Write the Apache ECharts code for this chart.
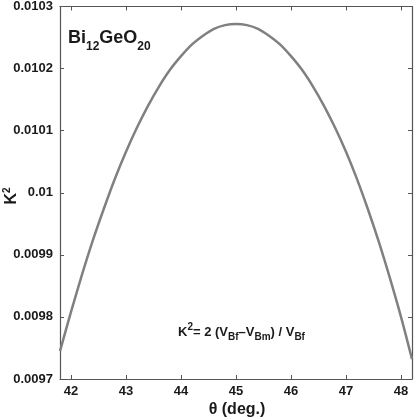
<!DOCTYPE html>
<html>
<head>
<meta charset="utf-8">
<script src="https://cdn.jsdelivr.net/npm/echarts@6/dist/echarts.min.js"></script>
<style>
  html, body { margin: 0; padding: 0; background: #fff; }
  #main { width: 415px; height: 419px; }
</style>
</head>
<body>
<div id="main"></div>
<script>
// theta (deg.) and K^2
var theta = [41.8, 42.0, 42.2, 42.4, 42.6, 42.8, 43.0, 43.2, 43.4, 43.6, 43.8, 44.0, 44.2, 44.4, 44.6, 44.8, 45.0,
  45.2, 45.4, 45.6, 45.8, 46.0, 46.2, 46.4, 46.6, 46.8, 47.0, 47.2, 47.4, 47.6, 47.8, 48.0, 48.2];
var k2 = [0.009745, 0.009808, 0.009868, 0.009924, 0.009975, 0.010023, 0.010066, 0.010105, 0.010140, 0.010171, 0.010198, 0.010220, 0.010239, 0.010253, 0.010264, 0.010270, 0.010272,
  0.010270, 0.010264, 0.010253, 0.010239, 0.010220, 0.010198, 0.010171, 0.010140, 0.010105, 0.010066, 0.010022, 0.009973, 0.009920, 0.009862, 0.009800, 0.009732];
var xTicks = [42, 43, 44, 45, 46, 47, 48];
var yTicks = [0.0097, 0.0098, 0.0099, 0.01, 0.0101, 0.0102, 0.0103];

var chart = echarts.init(document.getElementById('main'), null, { renderer: 'canvas' });

var font = 'Liberation Sans, Arial, Helvetica, sans-serif';
var axisColor = '#555';
var textColor = '#1a1a1a';

var pts = [];
for (var i = 0; i < theta.length; i++) {
  pts.push([theta[i], k2[i]]);
}

function xAxisCfg(pos, showLabel) {
  return {
    type: 'value',
    position: pos,
    min: 41.8,
    max: 48.2,
    axisLine: { show: true, onZero: false, lineStyle: { color: axisColor, width: 1.2 } },
    axisTick: { show: true, inside: true, length: 4, customValues: xTicks, lineStyle: { color: axisColor } },
    axisLabel: {
      show: showLabel, customValues: xTicks, margin: 6,
      color: textColor, fontSize: 13, fontWeight: 'bold', fontFamily: font
    },
    splitLine: { show: false }
  };
}

function yAxisCfg(pos, showLabel) {
  return {
    type: 'value',
    position: pos,
    min: 0.0097,
    max: 0.0103,
    axisLine: { show: true, onZero: false, lineStyle: { color: axisColor, width: 1.2 } },
    axisTick: { show: true, inside: true, length: 4, customValues: yTicks, lineStyle: { color: axisColor } },
    axisLabel: {
      show: showLabel, customValues: yTicks, margin: 7,
      color: textColor, fontSize: 13, fontWeight: 'bold', fontFamily: font,
      formatter: function (v) { return String(parseFloat(v.toFixed(4))); }
    },
    splitLine: { show: false }
  };
}

var option = {
  backgroundColor: '#fff',
  animation: false,
  grid: { left: 60, right: 3, top: 5, bottom: 40, containLabel: false },
  xAxis: [xAxisCfg('bottom', true), xAxisCfg('top', false)],
  yAxis: [yAxisCfg('left', true), yAxisCfg('right', false)],
  series: [{
    type: 'line',
    data: pts,
    smooth: 0.3,
    showSymbol: false,
    lineStyle: { color: '#808080', width: 2.5 }
  }],
  graphic: [
    {
      type: 'text', left: 68, top: 29,
      style: {
        text: '{m|Bi}{s|12}{m|GeO}{s|20}',
        fill: textColor,
        rich: {
          m: { fontSize: 18, fontWeight: 'bold', fontFamily: font, fill: textColor, lineHeight: 24, verticalAlign: 'top' },
          s: { fontSize: 12, fontWeight: 'bold', fontFamily: font, fill: textColor, lineHeight: 24, verticalAlign: 'bottom', padding: [9, 0, 0, 0] }
        }
      }
    },
    {
      type: 'text', left: 178, top: 322,
      style: {
        text: '{m|K}{p|2}{m|= 2 (V}{s|Bf}{m|\u2013V}{s|Bm}{m|) / V}{s|Bf}',
        fill: textColor,
        rich: {
          m: { fontSize: 13, fontWeight: 'bold', fontFamily: font, fill: textColor, lineHeight: 20, verticalAlign: 'middle' },
          p: { fontSize: 10, fontWeight: 'bold', fontFamily: font, fill: textColor, lineHeight: 20, verticalAlign: 'top', padding: [0, 0, 6, 0] },
          s: { fontSize: 10, fontWeight: 'bold', fontFamily: font, fill: textColor, lineHeight: 20, verticalAlign: 'bottom', padding: [7, 0, 0, 0] }
        }
      }
    },
    {
      type: 'text', x: 237, y: 410,
      style: {
        text: '\u03b8 (deg.)', fill: textColor,
        font: 'bold 16px ' + font, align: 'center', verticalAlign: 'middle'
      }
    },
    {
      type: 'text', x: 12, y: 196, rotation: Math.PI / 2,
      style: {
        text: '{m|K}{p|2}', fill: textColor, align: 'center', verticalAlign: 'middle',
        rich: {
          m: { fontSize: 16, fontWeight: 'bold', fontFamily: font, fill: textColor, lineHeight: 20, verticalAlign: 'middle' },
          p: { fontSize: 10, fontWeight: 'bold', fontFamily: font, fill: textColor, lineHeight: 20, verticalAlign: 'top', padding: [0, 0, 6, 0] }
        }
      }
    }
  ]
};

chart.setOption(option);
</script>
</body>
</html>
